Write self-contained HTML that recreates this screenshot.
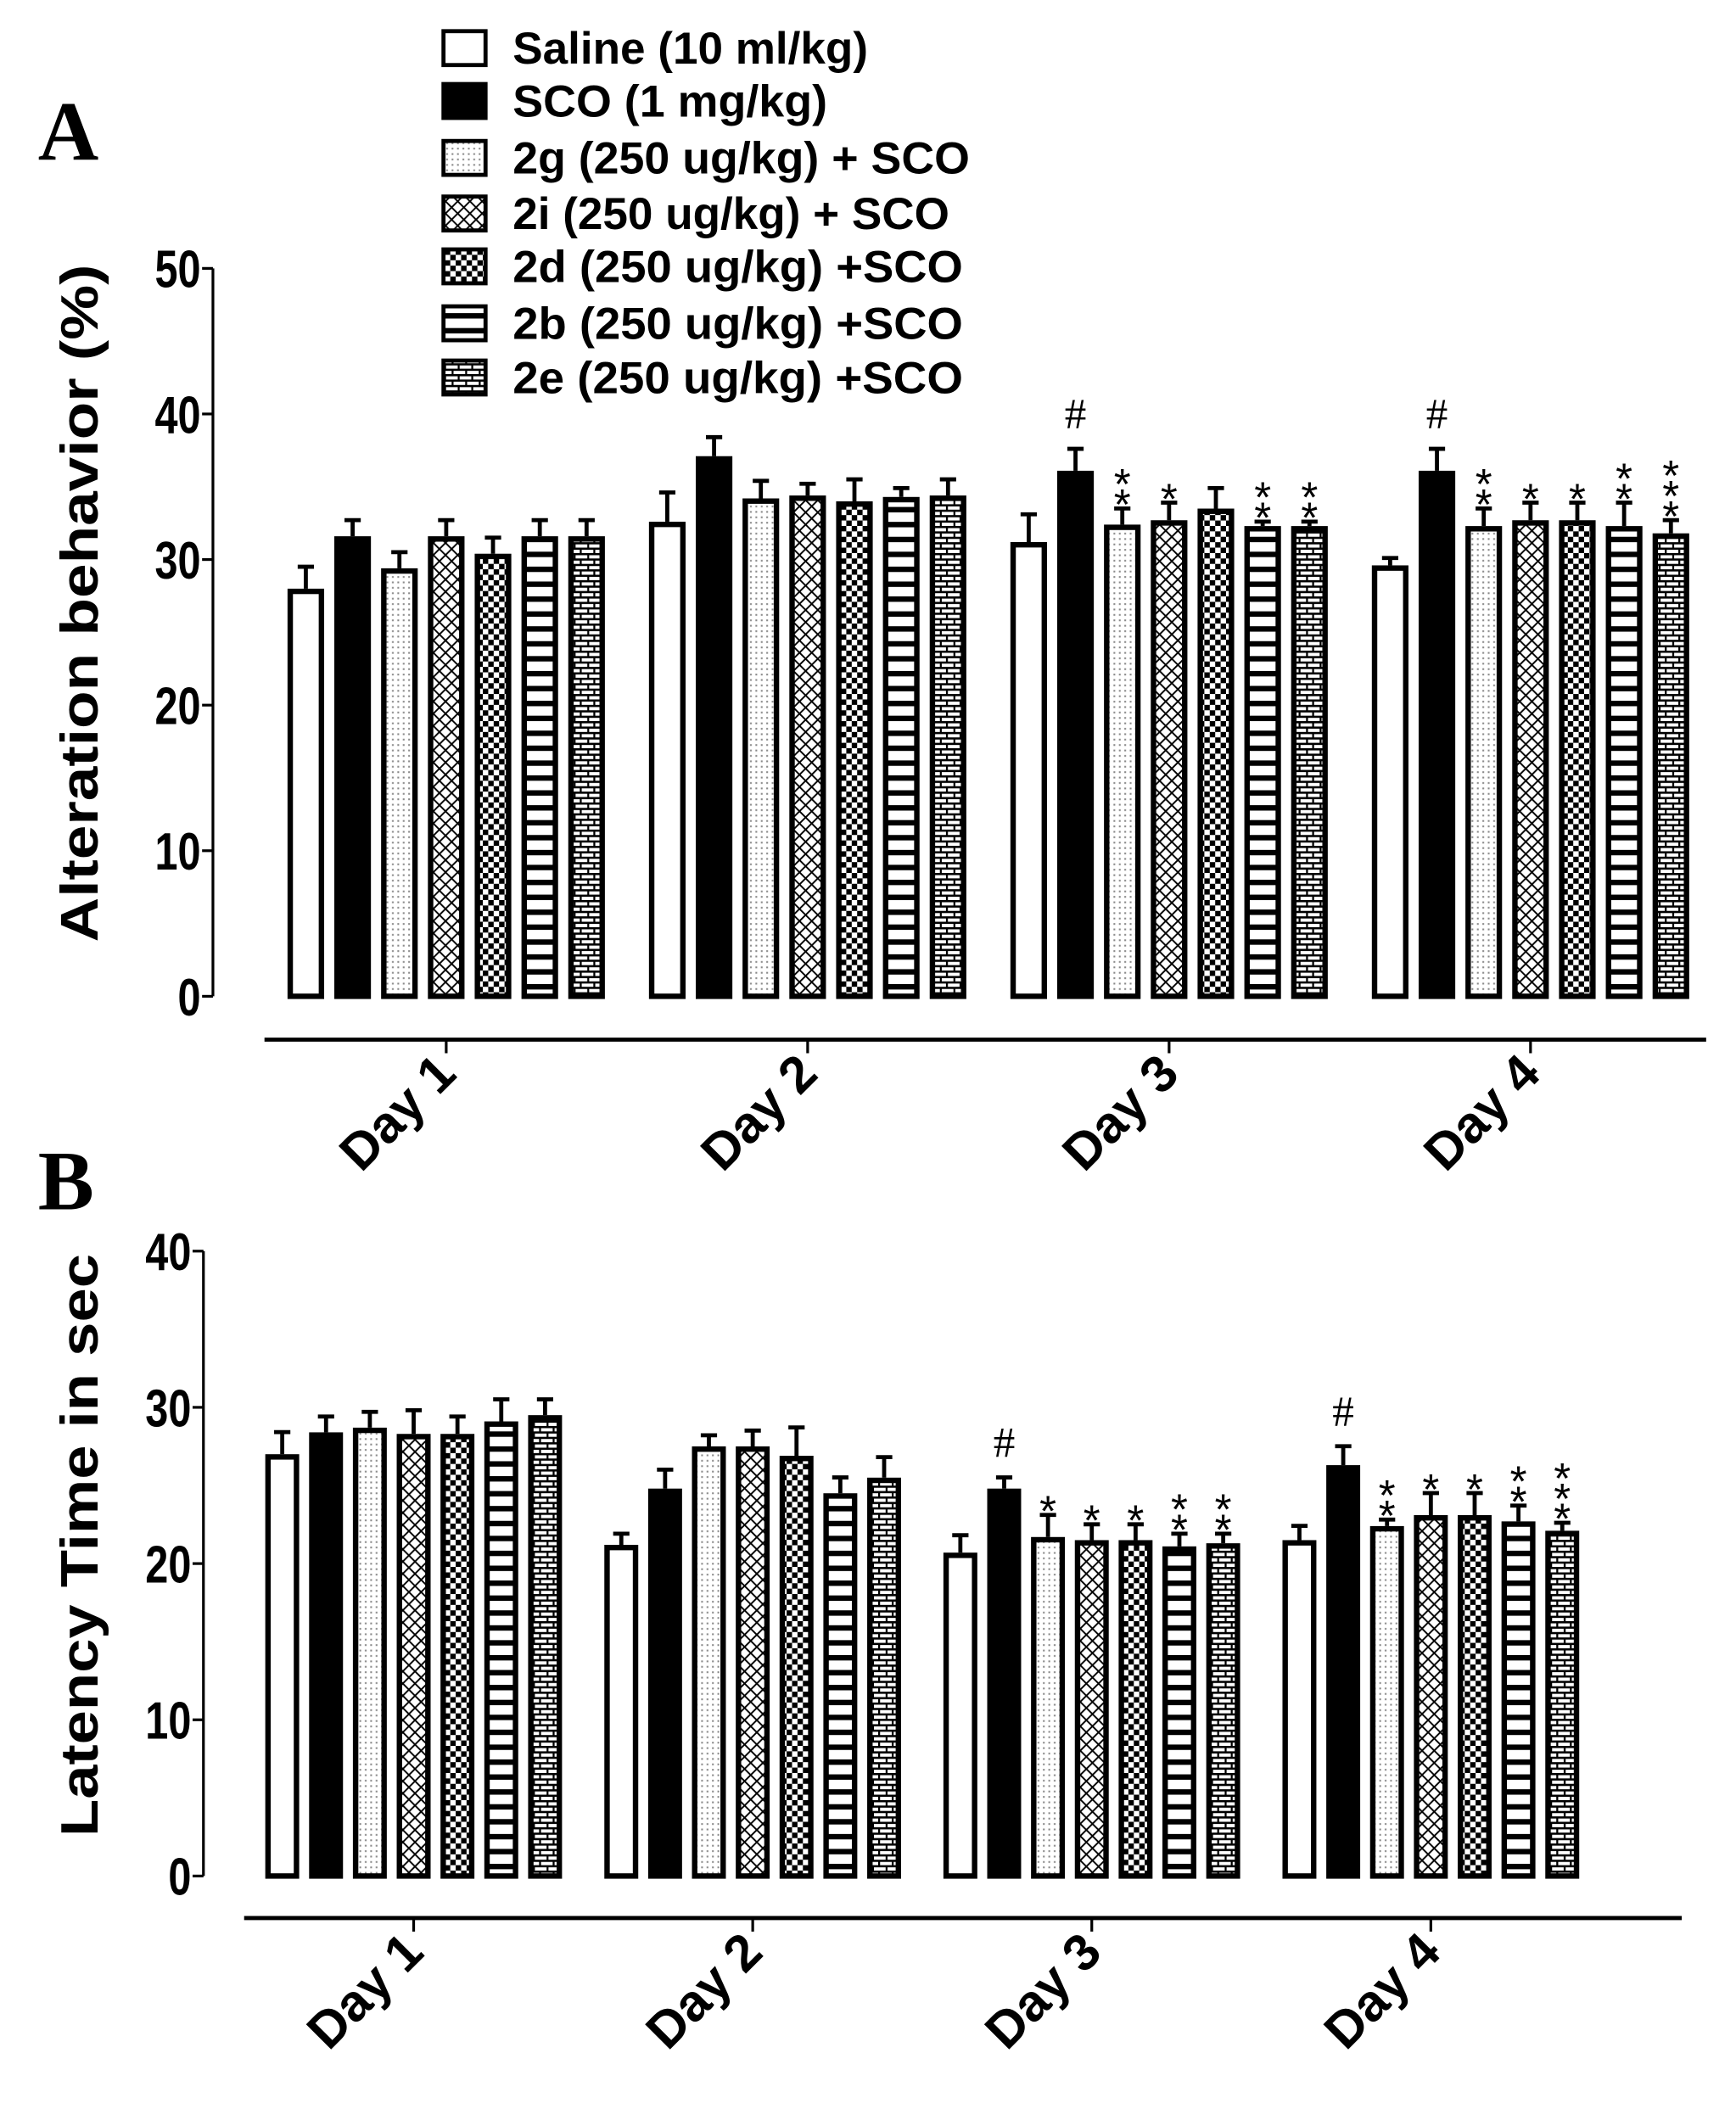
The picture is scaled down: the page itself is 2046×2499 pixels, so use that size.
<!DOCTYPE html>
<html><head><meta charset="utf-8"><style>html,body{margin:0;padding:0;background:#fff}svg{display:block}</style></head>
<body>
<svg id="s" xmlns="http://www.w3.org/2000/svg" width="2046" height="2499" viewBox="0 0 1280 1564" preserveAspectRatio="none">
<defs>
<pattern id="p2" width="4" height="4" patternUnits="userSpaceOnUse"><rect width="4" height="4" fill="#fff"/><rect x="1" y="1" width="1.3" height="1.3" fill="#888"/></pattern>
<pattern id="p3" width="9" height="9" patternUnits="userSpaceOnUse"><rect width="9" height="9" fill="#fff"/><path d="M0 0L9 9M9 0L0 9" stroke="#000" stroke-width="1.2"/></pattern>
<pattern id="p4" width="8" height="8" patternUnits="userSpaceOnUse"><rect width="8" height="8" fill="#fff"/><rect width="4" height="4" fill="#000"/><rect x="4" y="4" width="4" height="4" fill="#000"/></pattern>
<pattern id="p5" width="10" height="11" patternUnits="userSpaceOnUse"><rect width="10" height="11" fill="#fff"/><rect y="0" width="10" height="4" fill="#000"/></pattern>
<pattern id="p6" width="10" height="8" patternUnits="userSpaceOnUse"><rect width="10" height="8" fill="#fff"/><rect width="10" height="1.6" fill="#000"/><rect y="4" width="10" height="1.6" fill="#000"/><rect x="3" width="1.4" height="4" fill="#000"/><rect x="7.5" y="4" width="1.4" height="4" fill="#000"/></pattern>
</defs>
<g id="g"></g>
</svg>
<script>
var g=document.getElementById('g'),h='';
var fills=['#fff','#000','url(#p2)','url(#p3)','url(#p4)','url(#p5)','url(#p6)'];
function panel(o){
  var y=function(v){return o.y0-v*o.k;};
  h+='<line x1="'+o.ax+'" y1="'+y(o.max)+'" x2="'+o.ax+'" y2="'+o.y0+'" stroke="#000" stroke-width="2"/>';
  for(var v=0;v<=o.max;v+=10){
    h+='<line x1="'+(o.ax-8)+'" y1="'+y(v)+'" x2="'+o.ax+'" y2="'+y(v)+'" stroke="#000" stroke-width="2"/>';
    h+='<text x="'+(o.ax-9)+'" y="'+(y(v)+14)+'" font-family="Liberation Sans" font-weight="bold" font-size="39" text-anchor="end" transform="translate('+(o.ax-9)+' 0) scale(0.78 1) translate('+(-(o.ax-9))+' 0)">'+v+'</text>';
  }
  h+='<line x1="'+o.xl+'" y1="'+o.xy+'" x2="'+o.xr+'" y2="'+o.xy+'" stroke="#000" stroke-width="3"/>';
  for(var d=0;d<4;d++){
    var c=o.c0+d*o.cp;
    h+='<line x1="'+c+'" y1="'+o.xy+'" x2="'+c+'" y2="'+(o.xy+10)+'" stroke="#000" stroke-width="2"/>';
    h+='<text x="0" y="0" font-family="Liberation Sans" font-weight="bold" font-size="38" text-anchor="end" transform="translate('+(c+9)+' '+(o.xy+27)+') rotate(-45)">Day '+(d+1)+'</text>';
    for(var i=0;i<7;i++){
      var v=o.v[d][i],e=o.e[d][i],bc=c+(i-3)*o.bp,x=bc-o.bw/2;
      h+='<line x1="'+bc+'" y1="'+y(v)+'" x2="'+bc+'" y2="'+y(e)+'" stroke="#000" stroke-width="3"/>';
      h+='<line x1="'+(bc-6)+'" y1="'+(y(e)+1)+'" x2="'+(bc+6)+'" y2="'+(y(e)+1)+'" stroke="#000" stroke-width="3"/>';
      h+='<rect x="'+(x+2)+'" y="'+(y(v)+2)+'" width="'+(o.bw-4)+'" height="'+(o.y0-y(v)-2)+'" fill="'+fills[i]+'" stroke="#000" stroke-width="4"/>';
      var a=o.a[d][i];
      if(a=='#'){h+='<text x="'+bc+'" y="'+(y(e)-14)+'" font-family="Liberation Serif" font-size="32" text-anchor="middle">#</text>';}
      else if(a>0){for(var s=0;s<a;s++){h+='<text x="'+bc+'" y="'+(y(e)+9-s*15)+'" font-family="Liberation Sans" font-size="32" text-anchor="middle">*</text>';}}
    }
  }
}
panel({ax:157,y0:735,k:10.74,max:50,xl:195,xr:1258,xy:767,c0:329,cp:266.5,bp:34.5,bw:27,
v:[[28,31.6,29.4,31.6,30.4,31.6,31.6],[32.6,37.1,34.2,34.4,34.0,34.3,34.4],[31.2,36.1,32.4,32.7,33.5,32.3,32.3],[29.6,36.1,32.3,32.7,32.7,32.3,31.8]],
e:[[29.6,32.8,30.6,32.8,31.6,32.8,32.8],[34.7,38.5,35.5,35.3,35.6,35.0,35.6],[33.2,37.7,33.6,34.0,35.0,32.7,32.7],[30.2,37.7,33.6,34.0,34.0,34.0,32.8]],
a:[[0,0,0,0,0,0,0],[0,0,0,0,0,0,0],[0,'#',2,1,0,2,2],[0,'#',2,1,1,2,3]]});
panel({ax:150,y0:1384,k:11.525,max:40,xl:180,xr:1240,xy:1415,c0:305,cp:250,bp:32.3,bw:25,
v:[[27.0,28.4,28.7,28.3,28.3,29.1,29.5],[21.2,24.8,27.5,27.5,26.9,24.5,25.5],[20.7,24.8,21.7,21.5,21.5,21.1,21.3],[21.5,26.3,22.4,23.1,23.1,22.7,22.1]],
e:[[28.5,29.5,29.8,29.9,29.5,30.6,30.6],[22.0,26.1,28.3,28.6,28.8,25.6,26.9],[21.9,25.6,23.2,22.6,22.6,22.0,22.0],[22.5,27.6,22.9,24.6,24.6,23.8,22.7]],
a:[[0,0,0,0,0,0,0],[0,0,0,0,0,0,0],[0,'#',1,1,1,2,2],[0,'#',2,1,1,2,3]]});
var leg=['Saline (10 ml/kg)','SCO (1 mg/kg)','2g (250 ug/kg) + SCO','2i (250 ug/kg) + SCO','2d (250 ug/kg) +SCO','2b (250 ug/kg) +SCO','2e (250 ug/kg) +SCO'];
var ly=[35,74,116,157,196,238,278],lw=[262,232,337,322,332,332,332];
for(var i=0;i<7;i++){
  h+='<rect x="327" y="'+(ly[i]-12)+'" width="31" height="25" fill="'+fills[i]+'" stroke="#000" stroke-width="3"/>';
  h+='<text x="378" y="'+(ly[i]+12)+'" font-family="Liberation Sans" font-weight="bold" font-size="33" textLength="'+lw[i]+'" lengthAdjust="spacingAndGlyphs">'+leg[i]+'</text>';
}
h+='<text x="28" y="118" font-family="Liberation Serif" font-weight="bold" font-size="62">A</text>';
h+='<text x="28" y="892" font-family="Liberation Serif" font-weight="bold" font-size="62">B</text>';
h+='<text transform="translate(72 445) rotate(-90)" text-anchor="middle" font-family="Liberation Sans" font-weight="bold" font-size="39" textLength="500" lengthAdjust="spacingAndGlyphs">Alteration behavior (%)</text>';
h+='<text transform="translate(72 1140) rotate(-90)" text-anchor="middle" font-family="Liberation Sans" font-weight="bold" font-size="39" textLength="430" lengthAdjust="spacingAndGlyphs">Latency Time in sec</text>';
g.innerHTML=h;
</script>
</body></html>
